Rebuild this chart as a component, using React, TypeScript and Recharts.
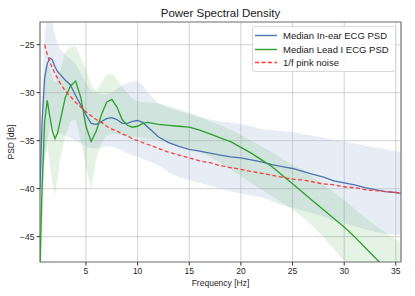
import React from 'react';
import { ComposedChart, Line, Area, XAxis, YAxis, CartesianGrid, ReferenceArea, Legend, Label } from 'recharts';

const freqs = [0.55, 0.75, 1, 1.25, 1.5, 1.75, 2, 2.25, 2.5, 3, 3.5, 4, 4.5, 5, 5.5, 6, 6.5, 7, 7.5, 8, 8.5, 9, 9.5, 10, 10.5, 11, 12, 13, 14, 15, 16, 17, 18, 19, 20, 21, 22, 23, 24, 25, 26, 27, 28, 29, 30, 31, 32, 33, 34, 35, 35.5];

const inEarMedian = [-40, -33, -28.5, -27, -26.4, -26.6, -27.3, -27.8, -28.1, -28.7, -29.2, -30.3, -31.3, -32.3, -33.2, -33.3, -33, -32.7, -32.6, -32.8, -33.2, -33.2, -33.0, -32.9, -33.1, -33.6, -34.6, -35.2, -35.6, -35.9, -36.1, -36.3, -36.5, -36.7, -36.8, -37.0, -37.2, -37.5, -37.7, -37.9, -38.2, -38.5, -38.8, -39.2, -39.4, -39.6, -39.9, -40.1, -40.3, -40.4, -40.5];
const inEarLow = [-46, -41, -37, -35, -33.5, -33.5, -34, -34.2, -34.3, -34.5, -34.7, -35, -35.3, -35.6, -35.8, -35.8, -35.7, -35.6, -35.6, -35.8, -36, -36.3, -36.5, -36.7, -36.9, -37.1, -37.6, -38.3, -38.8, -39.1, -39.4, -39.7, -40, -40.3, -40.5, -40.7, -40.9, -41.3, -41.7, -42, -42.3, -42.6, -42.9, -43.3, -43.6, -43.9, -44.2, -44.5, -44.7, -44.8, -44.8];
const inEarHigh = [-40, -30, -24, -22, -21.5, -22.5, -24, -24.8, -25.5, -26, -26.5, -27, -28, -29, -29.8, -30, -30.2, -30.2, -30, -29.6, -29.2, -29, -28.8, -28.8, -29.2, -30, -31.1, -31.6, -31.9, -32.2, -32.5, -32.8, -33, -33.1, -33.3, -33.5, -33.8, -33.9, -34, -34.1, -34.3, -34.5, -34.7, -34.9, -35.1, -35.3, -35.5, -35.7, -35.9, -36.1, -36.2];

const leadMedian = [-48, -40, -33, -30.8, -32.5, -34, -34.8, -34.2, -33, -30.5, -29.3, -28.8, -30.5, -33.5, -35.1, -34, -32.3, -31, -30.7, -31.5, -32.8, -33.4, -33.6, -33.5, -33.2, -33.1, -33.3, -33.4, -33.5, -33.6, -33.9, -34.3, -34.7, -35.1, -35.7, -36.3, -37.0, -37.7, -38.6, -39.5, -40.4, -41.3, -42.2, -43.1, -44.0, -45.0, -46.1, -47.2, -48.3, -49.4, -50.0];
const leadLow = [-55, -46, -37, -35.5, -37.5, -39.5, -40.7, -39, -37, -34.5, -33, -32.8, -35, -37.8, -40, -37, -35.2, -34.5, -34.3, -34.3, -34.5, -34.6, -34.6, -34.6, -34.7, -34.8, -35, -35.2, -35.5, -35.8, -36.2, -36.7, -37.3, -38, -38.7, -39.4, -40.1, -40.8, -41.5, -42.2, -43, -44, -45.1, -46.3, -47.5, -48.8, -50, -51.2, -52.4, -53.5, -54];
const leadHigh = [-44, -34, -27.5, -27, -27.5, -28.5, -29, -28.5, -27.8, -25.8, -25.2, -25.2, -26.3, -27.6, -29.2, -29.8, -29, -28.1, -28, -28.6, -29.4, -30, -30.6, -30.9, -31, -31, -31.1, -31.4, -31.7, -32.1, -32.5, -33, -33.4, -33.9, -34.4, -35, -35.6, -36.2, -36.9, -37.5, -38, -38.8, -39.6, -40.4, -41.2, -42.1, -43, -43.8, -44.6, -45.3, -45.6];

const pinkNoise = [null, null, -25, -26, -26.8, -27.4, -28, -28.5, -29, -29.8, -30.4, -31, -31.5, -32, -32.4, -32.8, -33.1, -33.5, -33.8, -34, -34.3, -34.5, -34.8, -35, -35.2, -35.4, -35.8, -36.2, -36.5, -36.8, -37.1, -37.3, -37.6, -37.8, -38, -38.2, -38.4, -38.6, -38.8, -39, -39.1, -39.3, -39.5, -39.6, -39.8, -39.9, -40.1, -40.2, -40.3, -40.4, -40.5];

const xTicks = [5, 10, 15, 20, 25, 30, 35];
const yTicks = [-45, -40, -35, -30, -25];

const legendItems = [
  { label: 'Median In-ear ECG PSD', color: '#4c72b0', dash: '' },
  { label: 'Median Lead I ECG PSD', color: '#2ca02c', dash: '' },
  { label: '1/f pink noise', color: '#ff3b3b', dash: '4 2.5' },
];

const data = freqs.map((f, i) => ({
  f,
  inEar: inEarMedian[i],
  inEarBand: [inEarLow[i], inEarHigh[i]],
  lead: leadMedian[i],
  leadBand: [leadLow[i], leadHigh[i]],
  pink: pinkNoise[i],
}));

const FONT = '"Liberation Sans", Arial, sans-serif';
const X_DOMAIN: [number, number] = [0.55, 35.5];
const Y_DOMAIN: [number, number] = [-47.64, -22.64];

const fmtY = (v: number) => String(v).replace('-', '\u2212');

const LegendBox = () => (
  <div
    style={{
      position: 'relative',
      width: 144,
      height: 46,
      boxSizing: 'border-box',
      border: '1px solid #d9d9d9',
      borderRadius: 3,
      background: 'rgba(255,255,255,0.85)',
      fontFamily: FONT,
      fontSize: 9.5,
      color: '#1a1a1a',
    }}
  >
    {legendItems.map((it, i) => (
      <div key={it.label} style={{ position: 'absolute', left: 0, top: 2 + i * 13.5, height: 13, width: 142 }}>
        <svg width={26} height={13} style={{ position: 'absolute', left: 2, top: 0 }}>
          <line x1={0} y1={6.5} x2={22} y2={6.5} stroke={it.color} strokeWidth={1.4} strokeDasharray={it.dash || undefined} />
        </svg>
        <span style={{ position: 'absolute', left: 30, top: 0, lineHeight: '13px', whiteSpace: 'nowrap' }}>{it.label}</span>
      </div>
    ))}
  </div>
);

export default function App() {
  return (
    <div style={{ position: 'absolute', left: 0, top: 0, width: 415, height: 296, background: '#fff' }}>
      <div
        style={{
          position: 'absolute',
          left: 40,
          width: 361,
          top: 6,
          textAlign: 'center',
          fontFamily: FONT,
          fontSize: 11.5,
          color: '#1a1a1a',
          lineHeight: '14px',
        }}
      >
        Power Spectral Density
      </div>
      <ComposedChart width={415} height={296} data={data} margin={{ top: 22, right: 14, bottom: 0, left: 0 }}>
        <CartesianGrid stroke="#cccccc" strokeWidth={0.9} />
        <XAxis
          type="number"
          dataKey="f"
          domain={X_DOMAIN}
          ticks={xTicks}
          allowDataOverflow
          height={34}
          axisLine={false}
          tickSize={3.5}
          tickLine={{ stroke: '#333' }}
          tick={{ fontSize: 8.5, fill: '#262626', fontFamily: FONT }}
        >
          <Label
            content={({ viewBox }: any) => (
              <text
                x={viewBox.x + viewBox.width / 2}
                y={viewBox.y + 24}
                textAnchor="middle"
                fontSize={8.5}
                fill="#262626"
                fontFamily={FONT}
              >
                Frequency [Hz]
              </text>
            )}
          />
        </XAxis>
        <YAxis
          type="number"
          domain={Y_DOMAIN}
          ticks={yTicks}
          allowDataOverflow
          width={40}
          axisLine={false}
          tickSize={3.5}
          tickLine={{ stroke: '#333' }}
          tickFormatter={fmtY}
          tick={{ fontSize: 8.5, fill: '#262626', fontFamily: FONT }}
        >
          <Label
            content={({ viewBox }: any) => {
              const cx = 14;
              const cy = viewBox.y + viewBox.height / 2;
              return (
                <text
                  x={cx}
                  y={cy}
                  transform={`rotate(-90 ${cx} ${cy})`}
                  textAnchor="middle"
                  fontSize={8.5}
                  fill="#262626"
                  fontFamily={FONT}
                >
                  PSD [dB]
                </text>
              );
            }}
          />
        </YAxis>
        <Area type="linear" dataKey="inEarBand" stroke="none" fill="#b0c4de" fillOpacity={0.3} isAnimationActive={false} activeDot={false} />
        <Area type="linear" dataKey="leadBand" stroke="none" fill="#2ca02c" fillOpacity={0.12} isAnimationActive={false} activeDot={false} />
        <Line type="linear" dataKey="inEar" stroke="#4c72b0" strokeWidth={1.3} dot={false} isAnimationActive={false} />
        <Line type="linear" dataKey="lead" stroke="#2ca02c" strokeWidth={1.3} dot={false} isAnimationActive={false} />
        <Line type="monotone" dataKey="pink" stroke="#ff3b3b" strokeWidth={1.3} strokeDasharray="4 2.5" dot={false} isAnimationActive={false} />
        <ReferenceArea x1={X_DOMAIN[0]} x2={X_DOMAIN[1]} y1={Y_DOMAIN[0]} y2={Y_DOMAIN[1]} fill="none" stroke="#808080" strokeWidth={1.2} />
        <Legend
          layout="vertical"
          align="center"
          verticalAlign="middle"
          content={() => <LegendBox />}
          wrapperStyle={{ position: 'absolute', left: 252, top: 26, width: 144, height: 46 }}
        />
      </ComposedChart>
    </div>
  );
}
